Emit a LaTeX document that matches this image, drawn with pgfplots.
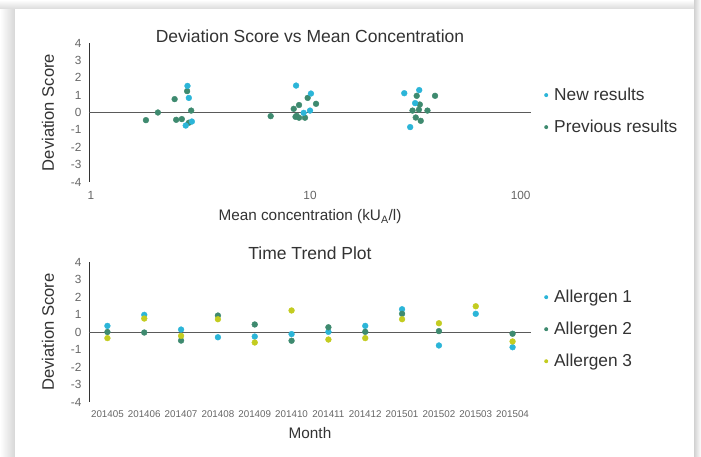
\documentclass[border=0pt]{standalone}
\usepackage{fontspec}
\setmainfont{Liberation Sans}
\usepackage{pgfplots}
\pgfplotsset{compat=1.18}
\definecolor{cnew}{HTML}{2BB5D8}
\definecolor{cprev}{HTML}{3E8A6F}
\definecolor{cyel}{HTML}{C3CC20}
\definecolor{txt}{HTML}{333333}
\definecolor{tickc}{HTML}{666666}
\definecolor{zline}{HTML}{5A5A5A}
\pgfplotsset{
  common/.style={
    scale only axis, width=442pt,
    ymin=-4, ymax=4, ytick={-4,-3,-2,-1,0,1,2,3,4},
    yticklabels={-4,-3,-2,-1,0,1,2,3,4},
    axis x line*=bottom, axis y line*=left,
    x axis line style={draw=none},
    y axis line style={draw=txt, line width=0.8pt},
    major tick length=0pt, minor tick length=0pt,
    tick style={draw=none},
    yticklabel style={font=\fontsize{11.8}{12}\selectfont, text=tickc, xshift=-4pt},
    extra y ticks={0}, extra y tick labels={},
    extra y tick style={grid=major, major grid style={draw=zline, line width=1pt}},
    every axis y label/.style={at={(axis description cs:-0.093,0.5)}, rotate=90, anchor=center, font=\fontsize{16.6}{18}\selectfont, text=txt},
    every axis title/.style={at={(axis description cs:0.5,1)}, anchor=base, font=\fontsize{17.5}{19}\selectfont, text=txt},
    legend style={draw=none, fill=none, font=\fontsize{17.3}{19}\selectfont, text=txt, inner sep=0pt, row sep=14pt},
    legend cell align=left,
    legend image code/.code={\fill[##1, draw=none] (0pt,0pt) circle (2pt); \path[draw=none, fill=none] (-2pt,0pt) rectangle (6pt,0.1pt);},
    clip=false,
  },
}
\begin{document}
\begin{tikzpicture}
\fill[white] (0,0) rectangle (701pt,457pt);
\shade[left color=white, right color=black!16] (0,0) rectangle (15pt,457pt);
\shade[top color=white, bottom color=black!14] (0,448pt) rectangle (701pt,457pt);
\shade[left color=black!18, right color=white] (694pt,0) rectangle (701pt,457pt);
\fill[white] (15pt,0) rectangle (694pt,448pt);

\begin{axis}[common, at={(89pt,275pt)}, anchor=south west, height=139pt,
  xmode=log, xmin=1, xmax=100, xtick={1,10,100}, xticklabels={\hspace*{4pt}1,10,100\hspace*{20.6pt}},
  xticklabel style={font=\fontsize{11.8}{12}\selectfont, text=tickc, anchor=base, yshift=-18pt},
  title={Deviation Score vs Mean Concentration},
  title style={yshift=0.7pt},
  xlabel={Mean concentration (kU\textsubscript{A}/l)},
  every axis x label/.style={at={(axis description cs:0.5,-0.2806)}, anchor=base, font=\fontsize{15.3}{17}\selectfont, text=txt},
  ylabel={Deviation Score},
  reverse legend,
  legend style={at={(axis description cs:1,0.51)}, anchor=west, xshift=13pt},
]
\addplot[only marks, mark=*, mark size=2.9pt, color=cprev] coordinates {
(1.81,-0.44) (2.05,0.00) (2.44,0.77) (2.48,-0.42) (2.63,-0.38) (2.78,1.23)
(2.90,0.11) (2.83,-0.59) (6.64,-0.21) (8.44,0.21) (8.92,0.43) (8.70,-0.19)
(8.92,-0.30) (9.49,-0.30) (9.76,0.84) (10.65,0.50) (8.60,-0.25)
(30.4,0.96) (36.8,0.96) (31.4,0.46) (29.1,0.11) (31.1,0.16) (34.0,0.11)
(30.1,-0.29) (31.7,-0.48)
};
\addlegendentry{Previous results}
\addplot[only marks, mark=*, mark size=2.9pt, color=cnew] coordinates {
(2.79,1.53) (2.83,0.84) (2.74,-0.75) (2.92,-0.52) (8.65,1.55) (9.36,-0.02)
(10.1,1.09) (10.0,0.11) (26.7,1.11) (31.2,1.29) (29.9,0.54) (28.4,-0.84)
};
\addlegendentry{New results}
\end{axis}

\begin{axis}[common, at={(89pt,55pt)}, anchor=south west, height=140pt,
  xmin=0.5, xmax=12.5, xtick={1,...,12},
  xticklabels={201405,201406,201407,201408,201409,201410,201411,201412,201501,201502,201503,201504},
  xticklabel style={font=\fontsize{9.8}{11}\selectfont, text=tickc, anchor=base, yshift=-15.3pt},
  title={Time Trend Plot},
  title style={yshift=2.3pt},
  xlabel={Month},
  every axis x label/.style={at={(axis description cs:0.5,-0.264)}, anchor=base, font=\fontsize{15.3}{17}\selectfont, text=txt},
  ylabel={Deviation Score},
  legend style={at={(axis description cs:1,0.52)}, anchor=west, xshift=13pt},
]
\addplot[only marks, mark=*, mark size=2.9pt, color=cnew] coordinates {
(1,0.35) (2,0.98) (3,0.14) (4,-0.30) (5,-0.26) (6,-0.12)
(7,0.01) (8,0.35) (9,1.30) (10,-0.77) (11,1.04) (12,-0.87)
};
\addlegendentry{Allergen 1}
\addplot[only marks, mark=*, mark size=2.9pt, color=cprev] coordinates {
(1,0.00) (2,-0.03) (3,-0.49) (4,0.94) (5,0.43) (6,-0.50)
(7,0.27) (8,0.01) (9,1.04) (10,0.05) (12,-0.10)
};
\addlegendentry{Allergen 2}
\addplot[only marks, mark=*, mark size=2.9pt, color=cyel] coordinates {
(1,-0.35) (2,0.77) (3,-0.22) (4,0.73) (5,-0.60) (6,1.23)
(7,-0.43) (8,-0.35) (9,0.73) (10,0.50) (11,1.47) (12,-0.54)
};
\addlegendentry{Allergen 3}
\end{axis}
\end{tikzpicture}
\end{document}
